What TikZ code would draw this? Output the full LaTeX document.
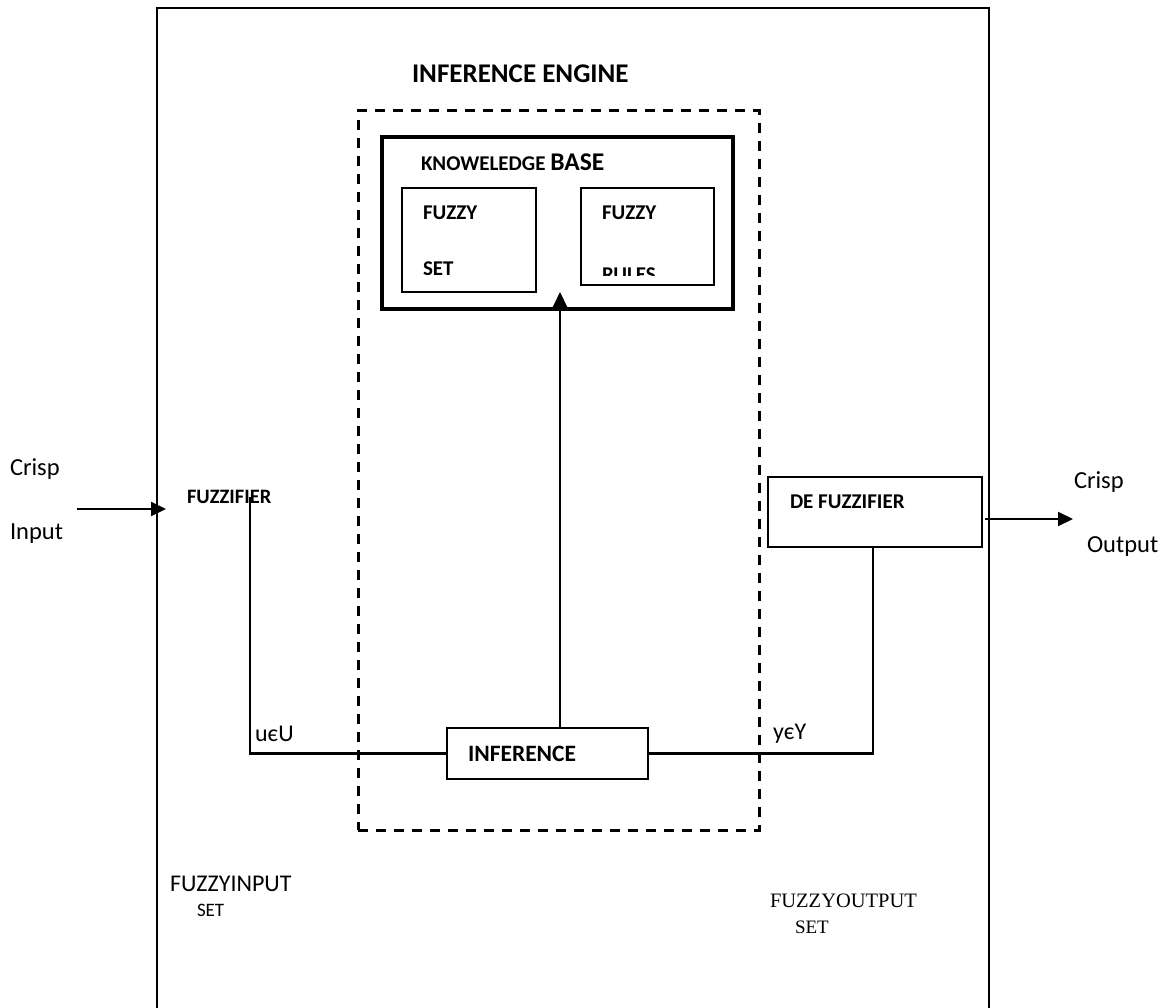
\documentclass[tikz,border=0pt]{standalone}
\usepackage{fontspec}
\setmainfont{Carlito}
\newfontfamily\timesf{Liberation Serif}
\usetikzlibrary{arrows.meta}
\begin{document}
\begin{tikzpicture}[x=1pt,y=-1pt,
  box/.style={draw,line width=#1,minimum width=0pt,minimum height=0pt,inner sep=0pt},
  txt/.style={anchor=base west,inner sep=0pt,outer sep=0pt},
  conn/.style={line width=2.1pt},
  arr/.style={line width=2.1pt,-{Triangle[length=15pt,width=14pt]}},
  dashbox/.style={draw,line width=3pt,dash pattern=on 10pt off 8pt}]
\useasboundingbox (0,0) rectangle (1169,1008);
% outer frame (bottom edge outside the picture)
\draw[line width=2.8pt] (157,1012) -- (157,8) -- (989,8) -- (989,1012);
% inference engine dashed region
\node[dashbox,minimum width=401pt,minimum height=719pt,inner sep=0pt] (eng) at (558.5,470.5) {};
\node[txt,font=\fontsize{27}{30}\selectfont\bfseries] (engt) at (412,83) {INFERENCE ENGINE};
% knowledge base
\node[box=3.2pt,minimum width=351pt,minimum height=172pt] (kb) at (557.5,223) {};
\node[txt] (kbt) at (421,171) {\fontsize{21}{23}\selectfont\bfseries KNOWELEDGE \fontsize{25.5}{27}\selectfont BASE};
\node[box=2.2pt,minimum width=134pt,minimum height=104pt] (fs) at (469,240) {};
\node[txt,font=\fontsize{21}{23}\selectfont\bfseries] (fs1) at (423,220) {FUZZY};
\node[txt,font=\fontsize{21}{23}\selectfont\bfseries] (fs2) at (423,276) {SET};
\node[box=2.2pt,minimum width=133pt,minimum height=97pt] (fr) at (647.5,236.5) {};
\node[txt,font=\fontsize{21}{23}\selectfont\bfseries] (fr1) at (602,220) {FUZZY};
\begin{scope}
\clip (582,189) rectangle (713,275);
\node[txt,font=\fontsize{21}{23}\selectfont\bfseries] (fr2) at (602,281) {RULES};
\end{scope}
% inference
\node[box=2.6pt,minimum width=201pt,minimum height=51pt] (inf) at (547.5,753.5) {};
\node[txt,font=\fontsize{23.5}{25}\selectfont\bfseries] (inft) at (468,761) {INFERENCE};
\coordinate (kbtip) at (560,292);
\draw[arr] (inf.north -| kbtip) -- (kbtip);
% fuzzifier
\node[txt,font=\fontsize{20.5}{22}\selectfont\bfseries] (fz) at (187,503) {FUZZIFIER};
\coordinate (fzline) at (250,497);
\draw[conn] (fzline) |- (inf.west);
\node[txt,font=\fontsize{24}{26}\selectfont] (u) at (255,741) {uєU};
% defuzzifier
\node[box=2.2pt,minimum width=214pt,minimum height=70pt] (defz) at (875,512) {};
\node[txt,font=\fontsize{21}{23}\selectfont\bfseries] (defzt) at (790,508) {DE FUZZIFIER};
\draw[conn] ([xshift=-2pt]defz.south) |- (inf.east);
\node[txt,font=\fontsize{24}{26}\selectfont] (y) at (773,739) {yєY};
% crisp input / output
\node[txt,font=\fontsize{24.5}{26}\selectfont] (ci1) at (10,475) {Crisp};
\node[txt,font=\fontsize{24.5}{26}\selectfont] (ci2) at (10,539) {Input};
\coordinate (inA) at (77,509);
\coordinate (inB) at (166,509);
\draw[arr] (inA) -- (inB);
\node[txt,font=\fontsize{24.5}{26}\selectfont] (co1) at (1074,488) {Crisp};
\node[txt,font=\fontsize{24.5}{26}\selectfont] (co2) at (1087,552) {Output};
\coordinate (outA) at (985,519);
\coordinate (outB) at (1073,519);
\draw[arr] (outA) -- (outB);
% fuzzy set labels
\node[txt,font=\fontsize{24}{26}\selectfont] (fin1) at (170,891) {FUZZYINPUT};
\node[txt,font=\fontsize{19}{21}\selectfont] (fin2) at (197,916) {SET};
\node[txt,font=\fontsize{20.5}{22}\selectfont\timesf] (fo1) at (770,907) {FUZZYOUTPUT};
\node[txt,font=\fontsize{19}{21}\selectfont\timesf] (fo2) at (795,933) {SET};
\end{tikzpicture}
\end{document}
